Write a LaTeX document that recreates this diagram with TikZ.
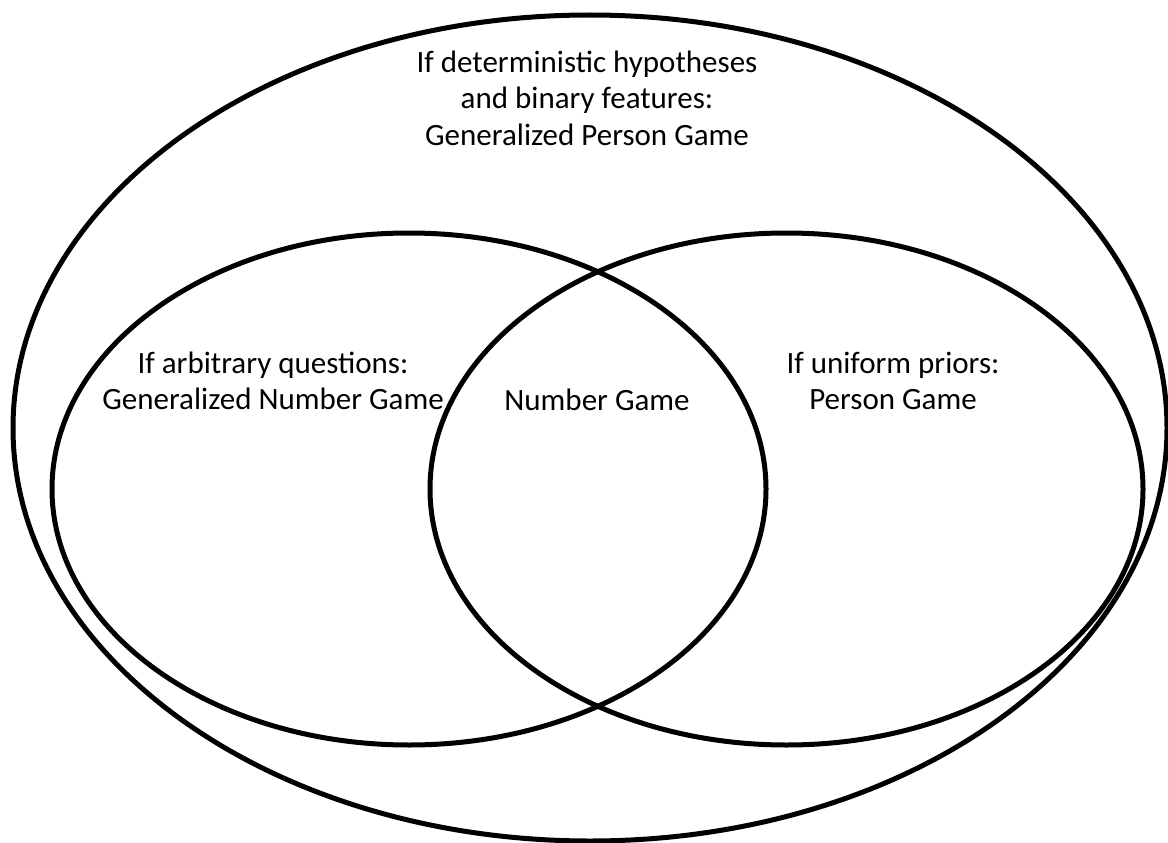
\documentclass[tikz,border=0pt]{standalone}
\usepackage{fontspec}
\setmainfont{Carlito}
\usetikzlibrary{shapes.geometric, positioning}

\begin{document}
\begin{tikzpicture}[x=1pt, y=-1pt,
set/.style={ellipse, draw=black, line width=5pt, inner sep=0pt},
caption/.style={align=center, inner sep=0pt, font=\fontsize{31}{36.5}\selectfont}
]
\useasboundingbox (0,0) rectangle (1168,843);
\node[set, minimum width=1154pt, minimum height=826pt] (persongen) at (590, 428) {};
\node[set, minimum width=714pt, minimum height=512pt]  (numbergen) at (409, 489) {};
\node[set, minimum width=713pt, minimum height=512pt]  (person)    at (786.5, 489) {};

\node[caption] (outertext) at (587, 98) {If deterministic hypotheses\\ and binary features:\\ Generalized Person Game};
\node[caption] (lefttext)  at (273, 381) {If arbitrary questions:\\ Generalized Number Game};
\node[caption, anchor=base] (middletext) at (597, 410) {Number Game};
\node[caption] (righttext) at (893, 381) {If uniform priors:\\ Person Game};
\end{tikzpicture}
\end{document}
